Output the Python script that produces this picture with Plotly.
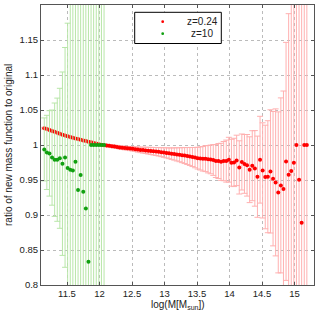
import plotly.graph_objects as go

# ---- data ----
red_x = [11.15, 11.19, 11.23, 11.27, 11.31, 11.35, 11.39, 11.43, 11.47, 11.51,
         11.55, 11.59, 11.63, 11.67, 11.71, 11.75, 11.79, 11.83, 11.87, 11.91,
         11.95, 11.99, 12.03, 12.07, 12.11, 12.15, 12.19, 12.23, 12.27, 12.31,
         12.35, 12.39, 12.43, 12.47, 12.51, 12.55, 12.59, 12.63, 12.67, 12.71,
         12.75, 12.79, 12.83, 12.87, 12.91, 12.95, 12.99, 13.03, 13.07, 13.11,
         13.15, 13.19, 13.23, 13.27, 13.31, 13.35, 13.39, 13.43, 13.47, 13.51,
         13.55, 13.59, 13.63, 13.67, 13.71, 13.75, 13.79, 13.83, 13.87, 13.91,
         13.95, 13.99, 14.03, 14.07, 14.11, 14.15, 14.19, 14.23, 14.27, 14.31,
         14.35, 14.39, 14.43, 14.47, 14.51, 14.55, 14.59, 14.63, 14.67, 14.71,
         14.75, 14.79, 14.83, 14.87, 14.91, 14.95, 14.99, 15.03, 15.07, 15.11,
         15.15, 15.19]
red_y = [1.0240, 1.0228, 1.0215, 1.0201, 1.0188, 1.0174, 1.0160, 1.0147, 1.0135, 1.0124,
         1.0113, 1.0103, 1.0093, 1.0084, 1.0075, 1.0066, 1.0057, 1.0048, 1.0039, 1.0030,
         1.0020, 1.0010, 1.0003, 0.9998, 0.9993, 0.9988, 0.9983, 0.9977, 0.9972, 0.9966,
         0.9961, 0.9957, 0.9953, 0.9949, 0.9945, 0.9940, 0.9935, 0.9930, 0.9927, 0.9923,
         0.9919, 0.9915, 0.9911, 0.9907, 0.9903, 0.9898, 0.9893, 0.9887, 0.9882, 0.9876,
         0.9872, 0.9866, 0.9861, 0.9855, 0.9849, 0.9843, 0.9836, 0.9828, 0.9820, 0.9812,
         0.9808, 0.9803, 0.9805, 0.9797, 0.9794, 0.9786, 0.9771, 0.9771, 0.9760, 0.9770,
         0.9770, 0.9790, 0.9747, 0.9751, 0.9780, 0.9680, 0.9757, 0.9730, 0.9710, 0.9647,
         0.9704, 0.9666, 0.9547, 0.9790, 0.9637, 0.9543, 0.9547, 0.9623, 0.9519, 0.9466,
         0.9323, 0.9423, 0.9371, 0.9766, 0.9576, 0.9629, 0.9747, 1.0000, 0.9504, 0.8890,
         1.0000, 1.0000]
red_err = [0.0012, 0.0012, 0.0012, 0.0012, 0.0012, 0.0012, 0.0012, 0.0012, 0.0012, 0.0013,
           0.0013, 0.0013, 0.0013, 0.0013, 0.0014, 0.0014, 0.0014, 0.0014, 0.0015, 0.0015,
           0.0015, 0.0016, 0.0016, 0.0017, 0.0018, 0.0019, 0.0020, 0.0021, 0.0022, 0.0023,
           0.0024, 0.0026, 0.0027, 0.0029, 0.0031, 0.0033, 0.0036, 0.0039, 0.0042, 0.0045,
           0.0048, 0.0051, 0.0054, 0.0057, 0.0060, 0.0064, 0.0068, 0.0072, 0.0077, 0.0082,
           0.0088, 0.0094, 0.0100, 0.0107, 0.0114, 0.0121, 0.0128, 0.0136, 0.0145, 0.0155,
           0.0165, 0.0175, 0.0185, 0.0195, 0.0205, 0.0220, 0.0235, 0.0250, 0.0265, 0.0280,
           0.0300, 0.0320, 0.0335, 0.0345, 0.0360, 0.0380, 0.0400, 0.0420, 0.0440, 0.0470,
           0.0500, 0.0540, 0.0580, 0.0620, 0.0680, 0.0740, 0.0800, 0.0880, 0.0960, 0.1050,
           0.1150, 0.1250, 0.1400, 0.1700, 0.2300, 0.2800, 0.3300, 0.3800, 0.4300, 0.4800,
           0.5300, 0.5800]

green_x = [11.15, 11.19, 11.23, 11.27, 11.31, 11.35, 11.39, 11.43, 11.47, 11.51,
           11.55, 11.59, 11.63, 11.67, 11.71, 11.75, 11.79, 11.83, 11.87, 11.91,
           11.95, 11.99, 12.03, 12.07]
green_y = [0.9937, 0.9894, 0.9880, 0.9820, 0.9790, 0.9790, 0.9810, 0.9733, 0.9823, 0.9670,
           0.9647, 0.9637, 0.9761, 0.9357, 0.9571, 0.9333, 0.9094, 0.8333, 1.0000, 1.0000,
           1.0000, 1.0000, 1.0000, 1.0000]
green_err = [0.045, 0.053, 0.061, 0.068, 0.081, 0.088, 0.100, 0.131, 0.157, 0.207,
             0.30, 0.35, 0.40, 0.45, 0.50, 0.55, 0.60, 0.65, 0.70, 0.75,
             0.80, 0.85, 0.90, 0.95]

series_names = ["z=0.24", "z=10"]
series_colors = ["#ff0000", "#10a010"]

x_ticks = [11.5, 12, 12.5, 13, 13.5, 14, 14.5, 15]
x_tick_labels = ["11.5", "12", "12.5", "13", "13.5", "14", "14.5", "15"]
y_ticks = [0.8, 0.85, 0.9, 0.95, 1.0, 1.05, 1.1, 1.15]
y_tick_labels = ["0.8", "0.85", "0.9", "0.95", "1", "1.05", "1.1", "1.15"]

FONT = "Liberation Sans, Arial, sans-serif"
TXT = "#222222"

fig = go.Figure()
fig.add_trace(go.Scatter(
    x=red_x, y=red_y, mode="markers", name=series_names[0],
    marker=dict(color=series_colors[0], size=4),
    error_y=dict(type="data", array=red_err, color="#ffb0b0", thickness=1, width=3),
))
fig.add_trace(go.Scatter(
    x=green_x, y=green_y, mode="markers", name=series_names[1],
    marker=dict(color=series_colors[1], size=4),
    error_y=dict(type="data", array=green_err, color="#b8e6a8", thickness=1, width=3),
))

axis_common = dict(
    showline=True, linecolor="#555555", linewidth=1, mirror="ticks",
    ticks="inside", ticklen=3, tickcolor="#555555",
    showgrid=True, gridcolor="#bbbbbb", griddash="dot", gridwidth=1,
    zeroline=False, tickfont=dict(family=FONT, size=9.5, color=TXT),
)

# plot area in pixels: x 41..314, y 5..285
def px_x(p):
    return (p - 41.0) / 273.0

def px_y(p):
    return (285.0 - p) / 280.0

shapes = [
    dict(type="rect", xref="paper", yref="paper",
         x0=px_x(134.7), x1=px_x(221.3), y0=px_y(43.5), y1=px_y(12.3),
         line=dict(color="#000000", width=1), fillcolor="white", layer="above"),
]
annotations = [
    dict(text="log(M[M<sub>sun</sub>])", xref="paper", yref="paper",
         x=0.5, y=px_y(305), xanchor="center", yanchor="middle", showarrow=False,
         font=dict(family=FONT, size=10, color=TXT)),
    dict(text="ratio of new mass function to original", xref="paper", yref="paper",
         x=px_x(8), y=0.5, xanchor="center", yanchor="middle", showarrow=False,
         textangle=-90, font=dict(family=FONT, size=10, color=TXT)),
]
legend_rows = [21.7, 33.7]
for name, col, row in zip(series_names, series_colors, legend_rows):
    shapes.append(dict(type="circle", xref="paper", yref="paper",
                       x0=px_x(161.3), x1=px_x(164.1), y0=px_y(row + 1.4), y1=px_y(row - 1.4),
                       line=dict(color=col, width=0), fillcolor=col, layer="above"))
    annotations.append(dict(text=name, xref="paper", yref="paper",
                            x=px_x(202), y=px_y(row), xanchor="center", yanchor="middle",
                            showarrow=False, font=dict(family=FONT, size=10, color=TXT)))

fig.update_layout(
    width=316, height=317,
    margin=dict(l=41, r=2, t=5, b=32),
    paper_bgcolor="white", plot_bgcolor="white",
    showlegend=False,
    shapes=shapes,
    annotations=annotations,
    xaxis=dict(range=[11.1, 15.3], tickvals=x_ticks, ticktext=x_tick_labels, **axis_common),
    yaxis=dict(range=[0.8, 1.2], tickvals=y_ticks, ticktext=y_tick_labels, **axis_common),
)

fig.write_html("out.html", config={"displayModeBar": False},
               post_script="document.body.style.margin='0';")
